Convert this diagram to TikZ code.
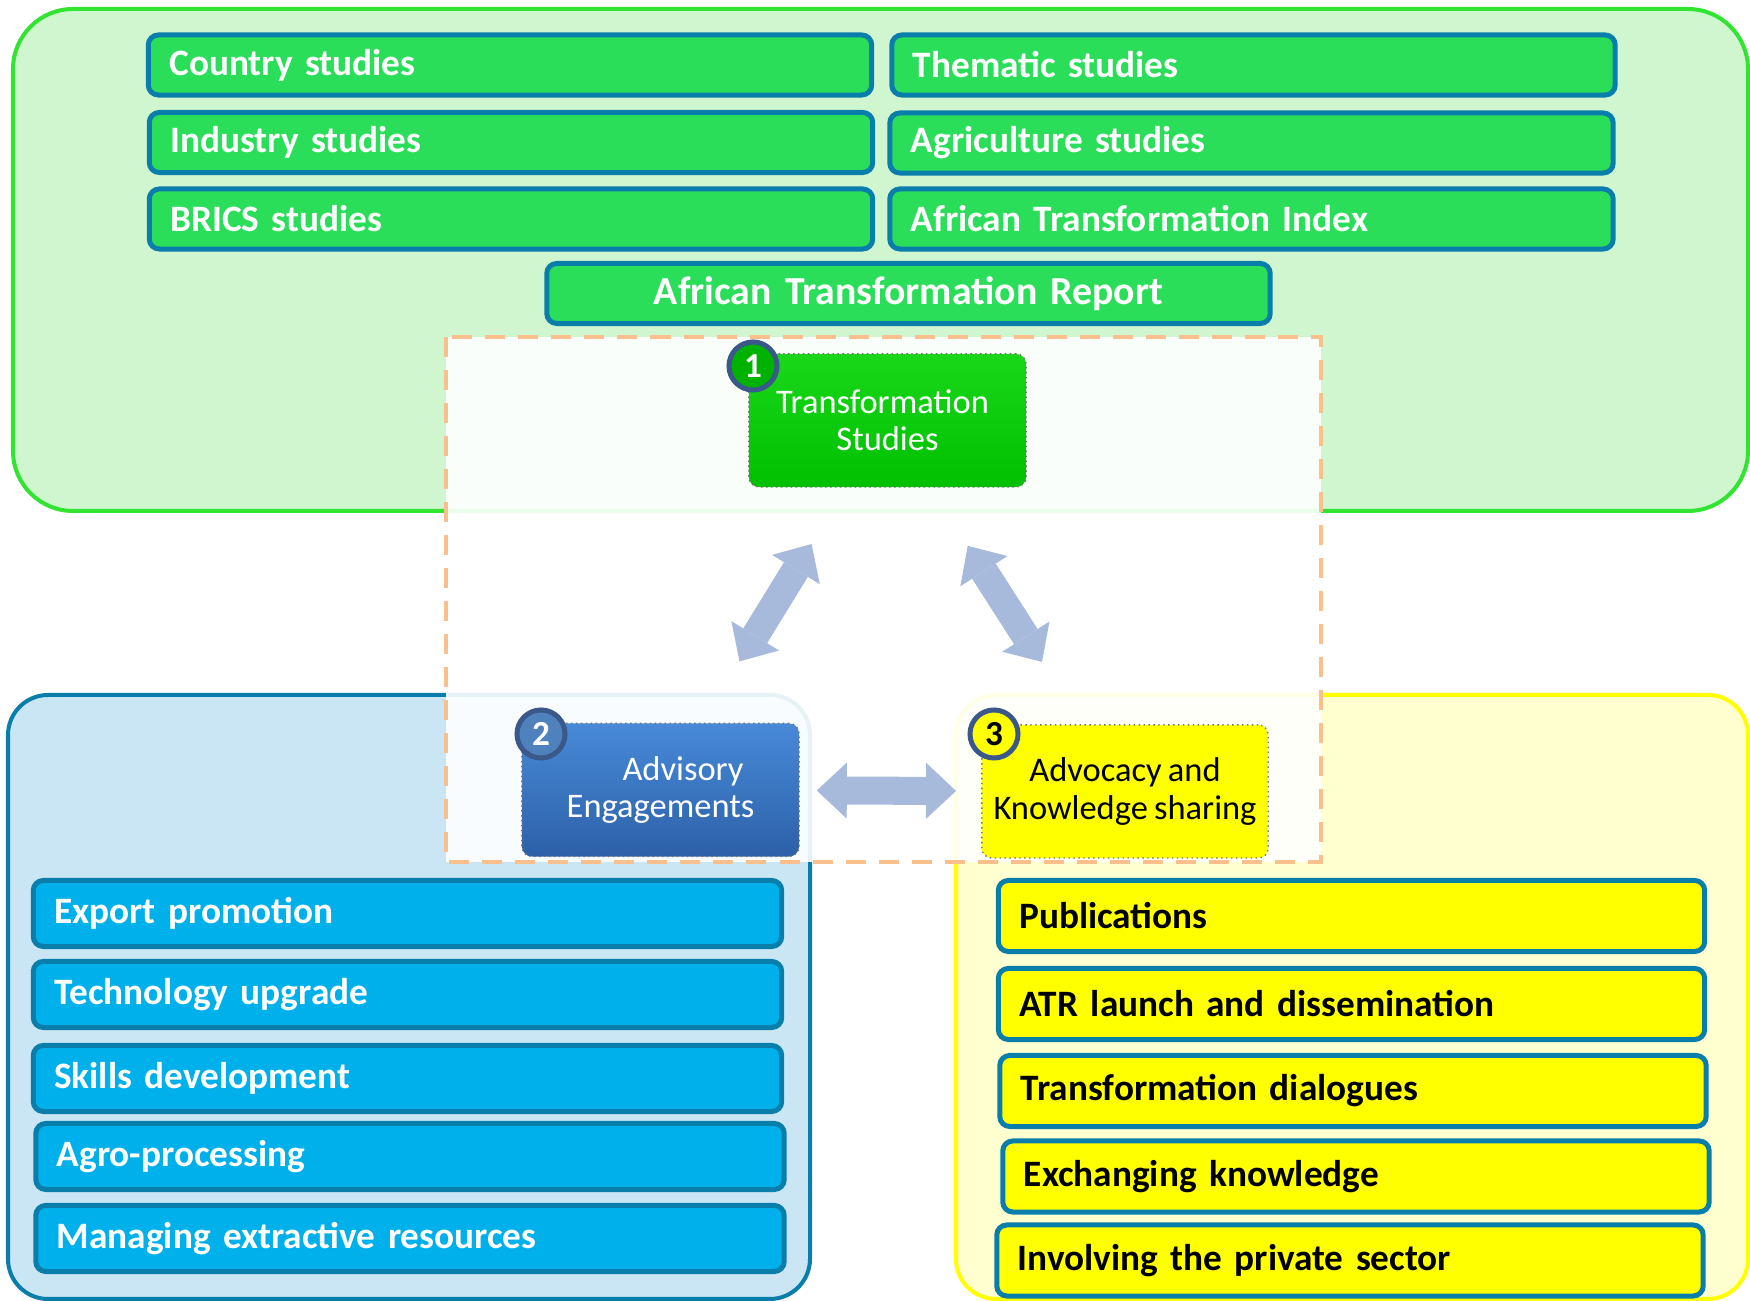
\documentclass[tikz,border=0pt]{standalone}
\usepackage{fontspec}
\setmainfont{Carlito}[WordSpace=0.8]
\usetikzlibrary{arrows.meta}
\definecolor{StudyClr}{RGB}{43,222,90}
\definecolor{StudyLineClr}{RGB}{50,228,50}
\definecolor{StudyBgClr}{RGB}{208,246,208}
\definecolor{AdviceClr}{RGB}{0,176,234}
\definecolor{AdviceBgClr}{RGB}{202,230,245}
\definecolor{ShareClr}{RGB}{255,255,0}
\definecolor{ShareBgClr}{RGB}{255,255,208}
\definecolor{ItemLineClr}{RGB}{10,126,170}
\definecolor{FrameClr}{RGB}{249,192,142}
\definecolor{BadgeLineClr}{RGB}{59,88,138}
\definecolor{BadgeOneClr}{RGB}{0,178,0}
\definecolor{BadgeTwoClr}{RGB}{79,129,189}
\definecolor{HubOneTopClr}{RGB}{25,215,25}
\definecolor{HubOneBotClr}{RGB}{0,192,0}
\definecolor{HubTwoTopClr}{RGB}{72,138,216}
\definecolor{HubTwoBotClr}{RGB}{44,96,168}
\definecolor{LinkClr}{RGB}{168,186,220}

\begin{document}
\begin{tikzpicture}[x=0.01cm,y=-0.01cm,
  panel/.style={line width=0.04cm,rounded corners=#1},
  frame/.style={draw=FrameClr,line width=0.04cm,dash pattern=on 0.2cm off 0.13cm,fill=white,fill opacity=0.9},
  item/.style={draw=ItemLineClr,line width=0.05cm,rounded corners=0.1cm,inner xsep=0.21cm,align=left,font=\fontsize{10.6}{12}\selectfont\bfseries},
  study/.style={item,fill=StudyClr,text=white,text width=6.81cm,minimum height=0.6cm},
  advice/.style={item,fill=AdviceClr,text=white,text width=7.06cm,minimum height=0.66cm},
  share/.style={item,fill=ShareClr,text=black,text width=6.64cm,minimum height=0.71cm},
  hub/.style={rounded corners=0.1cm,minimum width=2.77cm,minimum height=1.33cm,align=center,draw=black!55,densely dotted,font=\fontsize{9.8}{10.6}\selectfont},
  badge/.style={circle,draw=BadgeLineClr,solid,line width=0.05cm,minimum size=0.48cm,inner sep=0pt,font=\fontsize{10}{10}\selectfont\bfseries},
  link/.style={draw=LinkClr,line width=0.28cm,{Triangle[width=0.56cm,length=0.3cm,line width=0pt]}-{Triangle[width=0.56cm,length=0.3cm,line width=0pt]}}]
\useasboundingbox (0,0) rectangle (1750,1301);

\draw[panel=0.6cm,draw=StudyLineClr,fill=StudyBgClr] (13,9) rectangle (1748,511);
\draw[panel=0.4cm,draw=ItemLineClr,fill=AdviceBgClr] (8,695) rectangle (810,1299);
\draw[panel=0.4cm,draw=ShareClr,fill=ShareBgClr] (956,695) rectangle (1748,1299);

\draw[frame] (446,337) rectangle (1321,862);

\node[study] (cs) at (510,65) {Country studies};
\node[study] (ths) at (1253.5,65) {Thematic studies};
\node[study] (ins) at (511,142.5) {Industry studies};
\node[study] (ags) at (1251.5,143) {Agriculture studies};
\node[study] (brs) at (511,219) {BRICS studies};
\node[study] (ati) at (1251.5,219) {African Transformation Index};
\node[study,align=center,font=\fontsize{11.3}{13}\selectfont\bfseries] (atr) at (908.5,293.5) {African Transformation Report};

\node[advice] (ep) at (407.5,913.5) {Export promotion};
\node[advice] (tu) at (407.5,994.5) {Technology upgrade};
\node[advice] (sd) at (407.5,1078.5) {Skills development};
\node[advice] (ap) at (410,1156.5) {Agro-processing};
\node[advice] (mer) at (410,1238.5) {Managing extractive resources};

\node[share] (pub) at (1351.5,916) {Publications};
\node[share] (atl) at (1351.5,1004) {ATR launch and dissemination};
\node[share] (tdl) at (1353,1091) {Transformation dialogues};
\node[share] (exk) at (1356,1176.5) {Exchanging knowledge};
\node[share] (ips) at (1350,1260.5) {Involving the private sector};

\node[hub,top color=HubOneTopClr,bottom color=HubOneBotClr,text=white] (ts) at (887.5,420.5) {Transformation\hspace*{0.1cm}\\Studies};
\node[hub,top color=HubTwoTopClr,bottom color=HubTwoBotClr,text=white] (ae) at (660.5,790) {\hspace*{0.45cm}Advisory\\Engagements};
\node[hub,fill=ShareClr] (ak) at (1125,791.5) {Advocacy and\\Knowledge sharing};

\node[badge,fill=BadgeOneClr,text=white] (b1) at (753,366) {1};
\node[badge,fill=BadgeTwoClr,text=white] (b2) at (541,734) {2};
\node[badge,fill=ShareClr] (b3) at (994,734) {3};

\draw[link,shorten <=0.66cm,shorten >=0.72cm] (ts) -- (ae);
\draw[link,shorten <=0.69cm,shorten >=0.74cm] (ts) -- (ak);
\draw[link,shorten <=0.17cm,shorten >=0.25cm] (ae) -- (ak);

\end{tikzpicture}
\end{document}
